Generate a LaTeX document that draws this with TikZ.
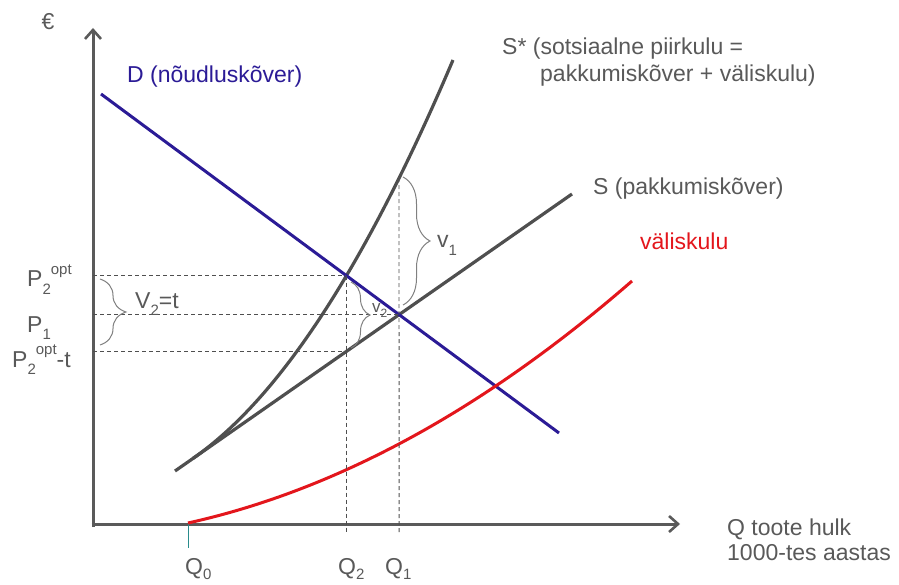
\documentclass[tikz,border=0pt]{standalone}
\usepackage{fontspec}
\setmainfont{Liberation Sans}
\usetikzlibrary{arrows.meta,decorations.pathreplacing,intersections}
\definecolor{axisgray}{HTML}{5A5A5A}
\definecolor{curvegray}{HTML}{4F4F4F}
\definecolor{txtgray}{HTML}{595959}
\definecolor{demandblue}{HTML}{2B1B96}
\definecolor{costred}{HTML}{E3161C}
\definecolor{bracegray}{HTML}{808080}
\definecolor{ticktea}{HTML}{2A8C8C}
\newcommand\lowidx[1]{\raisebox{-0.32em}{\fontsize{15}{15}\selectfont #1}}
\newcommand\highidx[1]{\raisebox{0.55em}{\fontsize{15}{15}\selectfont #1}}
\tikzset{
  lbl/.style={anchor=base west,inner sep=0pt,text=txtgray,font=\fontsize{23}{27}\selectfont},
  axisline/.style={draw=axisgray,line width=3pt,-{Straight Barb[length=9pt,width=16pt,line width=2.6pt]}},
  curveline/.style={draw=curvegray,line width=3.2pt},
  guide/.style={draw=curvegray,line width=0.8pt,dash pattern=on 4pt off 3pt},
  bracemark/.style={draw=bracegray,line width=1pt,decorate,decoration={brace,amplitude=#1}}
}
\begin{document}
\begin{tikzpicture}[x=1pt,y=-1pt]
\useasboundingbox (0,0) rectangle (899,585);
% reference coordinates
\coordinate (O) at (93,524);
\coordinate (bot) at (93,533);
\coordinate (ytop) at (93,28);
\coordinate (xend) at (680,524);
\coordinate (D0) at (101,94);
\coordinate (D1) at (559,433);
\coordinate (S0) at (175,471);
\coordinate (S1) at (572,194);
\coordinate (SS0) at (193,458.4);
\coordinate (SS1) at (453,60);
\coordinate (R0) at (188,523);
\coordinate (R1) at (632,281);
% axes
\draw[axisline] (93,527) -- (ytop);
\draw[axisline] (91.5,524) -- (xend);
% Q0 tick
\coordinate (q0top) at (188,524);
\coordinate (q0bot) at (188,548);
\draw[ticktea,line width=1pt] (q0top) -- (q0bot);
% curves
\draw[curveline,name path=sstar] (SS0) .. controls (280,398) and (366,265) .. (SS1);
\draw[curveline,name path=supply] (S0) -- (S1);
\draw[demandblue,line width=3pt,name path=demand] (D0) -- (D1);
\draw[costred,line width=3pt] (R0) .. controls (337,490) and (485,409) .. (R1);
% intersections
\path[name intersections={of=demand and sstar,by=pa}];
\path[name intersections={of=demand and supply,by=e1}];
\coordinate (pb) at (intersection of S0--S1 and pa--{pa|-O});
\path[name path=vline] (e1|-O) -- (e1|-ytop);
\path[name intersections={of=vline and sstar,by=pc}];
% dashed guides
\draw[guide] (pa-|O) -- (pa);
\draw[guide] (e1-|O) -- (e1);
\draw[guide] (pb-|O) -- (pb);
\draw[guide] (pa) -- (pa|-bot);
\draw[guide] (pc) -- (e1|-bot);
% braces
\coordinate (b1a) at (100,279);
\coordinate (b1b) at (100,345);
\draw[bracemark=26pt] (b1a) -- (b1b);
\coordinate (b2a) at (403,177);
\coordinate (b2b) at (403,305);
\draw[bracemark=27pt] (b2a) -- (b2b);
\coordinate (b3a) at (351,282);
\coordinate (b3b) at (351,348);
\draw[bracemark=19pt] (b3a) -- (b3b);
% labels
\node[lbl,anchor=center] (euro) at (48,22) {€};
\node[lbl,text=demandblue] (dlab) at (127,83) {D (nõudluskõver)};
\node[lbl] (sslab1) at (502,55) {S* (sotsiaalne piirkulu =};
\node[lbl] (sslab2) at (540,82) {pakkumiskõver + väliskulu)};
\node[lbl] (slab) at (593,195) {S (pakkumiskõver)};
\node[lbl,text=costred] (rlab) at (640,250) {väliskulu};
\node[lbl] (qlab1) at (727,535) {Q toote hulk};
\node[lbl] (qlab2) at (727,560) {1000-tes aastas};
\node[lbl] (q0) at (185,574) {Q\raisebox{-0.22em}{\fontsize{15}{15}\selectfont 0}};
\node[lbl] (q2) at (338,574) {Q\raisebox{-0.22em}{\fontsize{15}{15}\selectfont 2}};
\node[lbl] (q1) at (385,574) {Q\raisebox{-0.22em}{\fontsize{15}{15}\selectfont 1}};
\node[lbl] (p2) at (27,287) {P\lowidx{2}\highidx{opt}};
\node[lbl] (p1) at (27,332) {P\lowidx{1}};
\node[lbl] (p2t) at (12,367) {P\lowidx{2}\highidx{opt}-t};
\node[lbl] (v2t) at (135,308) {V\lowidx{2}=t};
\node[lbl] (v1) at (437,248) {v\lowidx{1}};
\node[lbl,font=\fontsize{17}{20}\selectfont] (v2) at (372,312) {v\raisebox{-0.3em}{\fontsize{12}{12}\selectfont 2}};
\end{tikzpicture}
\end{document}
